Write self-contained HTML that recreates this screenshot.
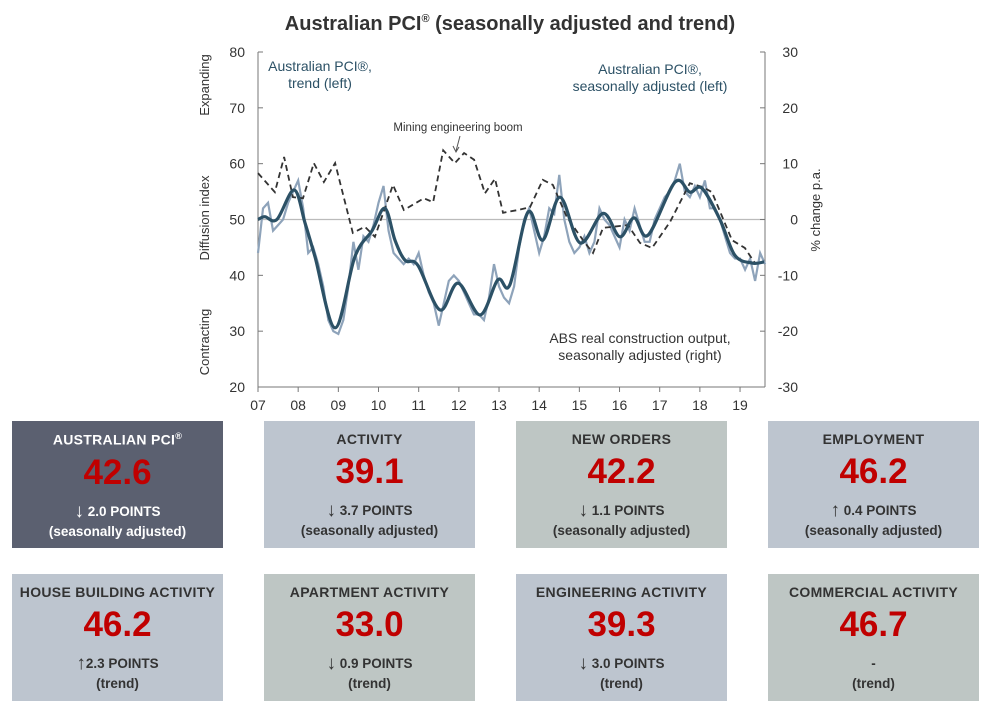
<!DOCTYPE html>
<html><head><meta charset="utf-8"><style>
body{margin:0;width:990px;height:708px;background:#fff;font-family:"Liberation Sans",sans-serif;overflow:hidden;position:relative}
.card{position:absolute;width:211px;height:127px;text-align:center;color:#333}
.card .t{font-weight:bold;font-size:14px;margin-top:10px;letter-spacing:0.3px}
.card .v{font-weight:bold;font-size:35px;color:#c00000;margin-top:6px;line-height:38px}
.card .c{font-weight:bold;font-size:13.5px;margin-top:10px;line-height:20px}
.card .a{font-size:19px;font-weight:normal;vertical-align:-1px}
.dark{background:#5b6070;color:#fff}
.blue{background:#bdc5cf}
.grey{background:#bec6c4}
</style></head><body>
<svg id="chart" width="990" height="415" style="position:absolute;left:0;top:0" font-family="Liberation Sans, sans-serif"></svg>

<div class="card dark" style="left:12px;top:421px"><div class="t">AUSTRALIAN PCI<sup style="font-size:9px">®</sup></div><div class="v">42.6</div><div class="c"><span class="a">↓</span> 2.0 POINTS<br>(seasonally adjusted)</div></div>
<div class="card blue" style="left:264px;top:421px"><div class="t">ACTIVITY</div><div class="v">39.1</div><div class="c"><span class="a">↓</span> 3.7 POINTS<br>(seasonally adjusted)</div></div>
<div class="card grey" style="left:516px;top:421px"><div class="t">NEW ORDERS</div><div class="v">42.2</div><div class="c"><span class="a">↓</span> 1.1 POINTS<br>(seasonally adjusted)</div></div>
<div class="card blue" style="left:768px;top:421px"><div class="t">EMPLOYMENT</div><div class="v">46.2</div><div class="c"><span class="a">↑</span> 0.4 POINTS<br>(seasonally adjusted)</div></div>
<div class="card blue" style="left:12px;top:574px"><div class="t">HOUSE BUILDING ACTIVITY</div><div class="v">46.2</div><div class="c"><span class="a">↑</span>2.3 POINTS<br>(trend)</div></div>
<div class="card grey" style="left:264px;top:574px"><div class="t">APARTMENT ACTIVITY</div><div class="v">33.0</div><div class="c"><span class="a">↓</span> 0.9 POINTS<br>(trend)</div></div>
<div class="card blue" style="left:516px;top:574px"><div class="t">ENGINEERING ACTIVITY</div><div class="v">39.3</div><div class="c"><span class="a">↓</span> 3.0 POINTS<br>(trend)</div></div>
<div class="card grey" style="left:768px;top:574px"><div class="t">COMMERCIAL ACTIVITY</div><div class="v">46.7</div><div class="c">-<br>(trend)</div></div>

<script>
const xTickLabels=["07","08","09","10","11","12","13","14","15","16","17","18","19"];
const leftTicks=[20,30,40,50,60,70,80];
const rightTicks=[-30,-20,-10,0,10,20,30];
const trendYears=[2007.0,2007.17,2007.47,2007.9,2008.17,2008.42,2008.92,2009.41,2009.84,2010.16,2010.41,2010.66,2010.98,2011.53,2011.98,2012.53,2012.97,2013.27,2013.72,2014.09,2014.52,2015.02,2015.59,2016.01,2016.36,2016.71,2017.38,2017.75,2018.05,2018.5,2018.87,2019.3,2019.6];
const trendValues=[50,50.5,50,55.3,49.4,43.3,30.6,43.3,48,52,46.3,42.7,41.8,33.8,38.6,32.9,39.2,38.3,51.3,46.3,54,45.8,51.1,46.9,50.3,47.2,56.7,54.9,55.6,50,43.6,42.2,42.4];
const saStart=2007.0, saStep=0.125;
const saValues=[44,52,53,48,49,50,53,55, 57,52,44,45,42,38,32,30, 29.5,32,38,46,41,47,46,49, 53,56,48,44,43,42,43,42, 44,40,37,35,31,35,39,40, 39,37,35,33,33,32,36,42, 38,36,35,38,45,50,52,48, 44,47,52,51,58,50,46,44, 45,47,44,46,52,50,49,47, 45,50,48,52,49,46,46,50, 52,54,55,57,60,55,54,56, 54,57,52,52,50,47,44,43, 43,41,43,39,44,42];
const absYears=[2007.0,2007.42,2007.65,2007.87,2008.12,2008.39,2008.64,2008.92,2009.36,2009.66,2009.91,2010.36,2010.63,2011.13,2011.36,2011.61,2011.9,2012.13,2012.38,2012.65,2012.9,2013.1,2013.47,2013.77,2014.09,2014.34,2014.69,2015.14,2015.34,2015.59,2016.21,2016.51,2016.81,2017.26,2017.75,2018.08,2018.3,2018.8,2019.12,2019.37];
const absValues=[8.3,4.9,11.2,4,3.8,10.1,6.7,10.1,-2.4,-1.3,-3.1,6.2,1.7,3.8,3.1,12.4,10.1,11.9,10.7,4.7,7.3,1.2,1.7,2.2,7.1,6.2,0.4,-4.2,-6,-1.5,-1,-4.2,-5.1,-0.4,6.5,5.8,4.9,-3.7,-5.1,-7.8];

const svg=document.getElementById('chart');
const NS='http://www.w3.org/2000/svg';
const X0=258,X1=765,YT=52,YB=387;
const xs=y=>X0+(y-2007)*40.17;
const yl=v=>YB-(v-20)*(YB-YT)/60;
const yr=v=>YB-(v+30)*(YB-YT)/60;
function mk(tag,attrs,txt){const e=document.createElementNS(NS,tag);for(const k in attrs)e.setAttribute(k,attrs[k]);if(txt!==undefined)e.textContent=txt;svg.appendChild(e);return e;}

let e=mk('text',{x:510,y:30,'text-anchor':'middle','font-size':20,'font-weight':'bold',fill:'#333'},'Australian PCI');


const sup=document.createElementNS(NS,'tspan');sup.setAttribute('font-size',11);sup.setAttribute('dy',-8);sup.textContent='®';e.appendChild(sup);
const rest=document.createElementNS(NS,'tspan');rest.setAttribute('dy',8);rest.textContent=' (seasonally adjusted and trend)';e.appendChild(rest);

e=mk('line',{x1:X0,y1:yr(0),x2:X1,y2:yr(0),stroke:'#bbb','stroke-width':1.2});


e=mk('line',{x1:X0,y1:YT,x2:X0,y2:YB,stroke:'#777','stroke-width':1});


e=mk('line',{x1:X1,y1:YT,x2:X1,y2:YB,stroke:'#777','stroke-width':1});


e=mk('line',{x1:X0,y1:YB,x2:X1,y2:YB,stroke:'#777','stroke-width':1});



leftTicks.forEach(v=>{mk('line',{x1:X0,y1:yl(v),x2:X0+5,y2:yl(v),stroke:'#777'});
 e=mk('text',{x:245,y:yl(v)+5,'text-anchor':'end','font-size':14,fill:'#333'},v);
 
 });
rightTicks.forEach(v=>{mk('line',{x1:X1-5,y1:yr(v),x2:X1,y2:yr(v),stroke:'#777'});
 e=mk('text',{x:798,y:yr(v)+5,'text-anchor':'end','font-size':14,fill:'#333'},v);
 
 });
xTickLabels.forEach((t,i)=>{const x=xs(2007+i);mk('line',{x1:x,y1:YB,x2:x,y2:YB+5,stroke:'#777'});
 e=mk('text',{x:x,y:410,'text-anchor':'middle','font-size':14,fill:'#333'},t);
 
 });

function rot(txt,x,y,name){e=mk('text',{x:x,y:y,'text-anchor':'middle','font-size':13,fill:'#333',transform:`rotate(-90 ${x} ${y})`},txt);
 
 }
rot('Expanding',209,85,'expanding-label');
rot('Diffusion index',209,218,'y-axis-title');
rot('Contracting',209,342,'contracting-label');
rot('% change p.a.',820,210,'right-axis-title');

function smooth(pts){let d=`M${pts[0][0]},${pts[0][1]}`;for(let i=0;i<pts.length-1;i++){const p0=pts[Math.max(0,i-1)],p1=pts[i],p2=pts[i+1],p3=pts[Math.min(pts.length-1,i+2)];
 d+=` C${p1[0]+(p2[0]-p0[0])/6},${p1[1]+(p2[1]-p0[1])/6} ${p2[0]-(p3[0]-p1[0])/6},${p2[1]-(p3[1]-p1[1])/6} ${p2[0]},${p2[1]}`;}return d;}

const saPts=saValues.map((v,i)=>[xs(saStart+i*saStep),yl(v)]);
e=mk('path',{d:'M'+saPts.map(p=>p.join(',')).join(' L'),fill:'none',stroke:'#8ea3ba','stroke-width':2.2});


const absPts=absYears.map((y,i)=>[xs(y),yr(absValues[i])]);
e=mk('path',{d:'M'+absPts.map(p=>p.join(',')).join(' L'),fill:'none',stroke:'#333','stroke-width':1.8,'stroke-dasharray':'6,4'});


const trPts=trendYears.map((y,i)=>[xs(y),yl(trendValues[i])]);
e=mk('path',{d:smooth(trPts),fill:'none',stroke:'#2c5166','stroke-width':3.2});



function lab(lines,x,y,anchor,name,size){e=mk('text',{x:x,y:y,'text-anchor':anchor,'font-size':size||14,fill:'#2c5166'});
 
 
 lines.forEach((l,i)=>{const t=document.createElementNS(NS,'tspan');t.setAttribute('x',x);t.setAttribute('dy',i?17:0);t.textContent=l;e.appendChild(t);});}
lab(['Australian PCI®,','trend (left)'],320,71,'middle','trend-label');
lab(['Australian PCI®,','seasonally adjusted (left)'],650,74,'middle','sa-label');
e=mk('text',{x:640,y:343,'text-anchor':'middle','font-size':14,fill:'#333'});


['ABS real construction output,','seasonally adjusted (right)'].forEach((l,i)=>{const t=document.createElementNS(NS,'tspan');t.setAttribute('x',640);t.setAttribute('dy',i?17:0);t.textContent=l;e.appendChild(t);});
e=mk('text',{x:458,y:131,'text-anchor':'middle','font-size':11.5,fill:'#333'},'Mining engineering boom');


e=mk('path',{d:'M460,136 L456,151 M453,146 L456,152 L459,147',fill:'none',stroke:'#555','stroke-width':1});


</script>
</body></html>
